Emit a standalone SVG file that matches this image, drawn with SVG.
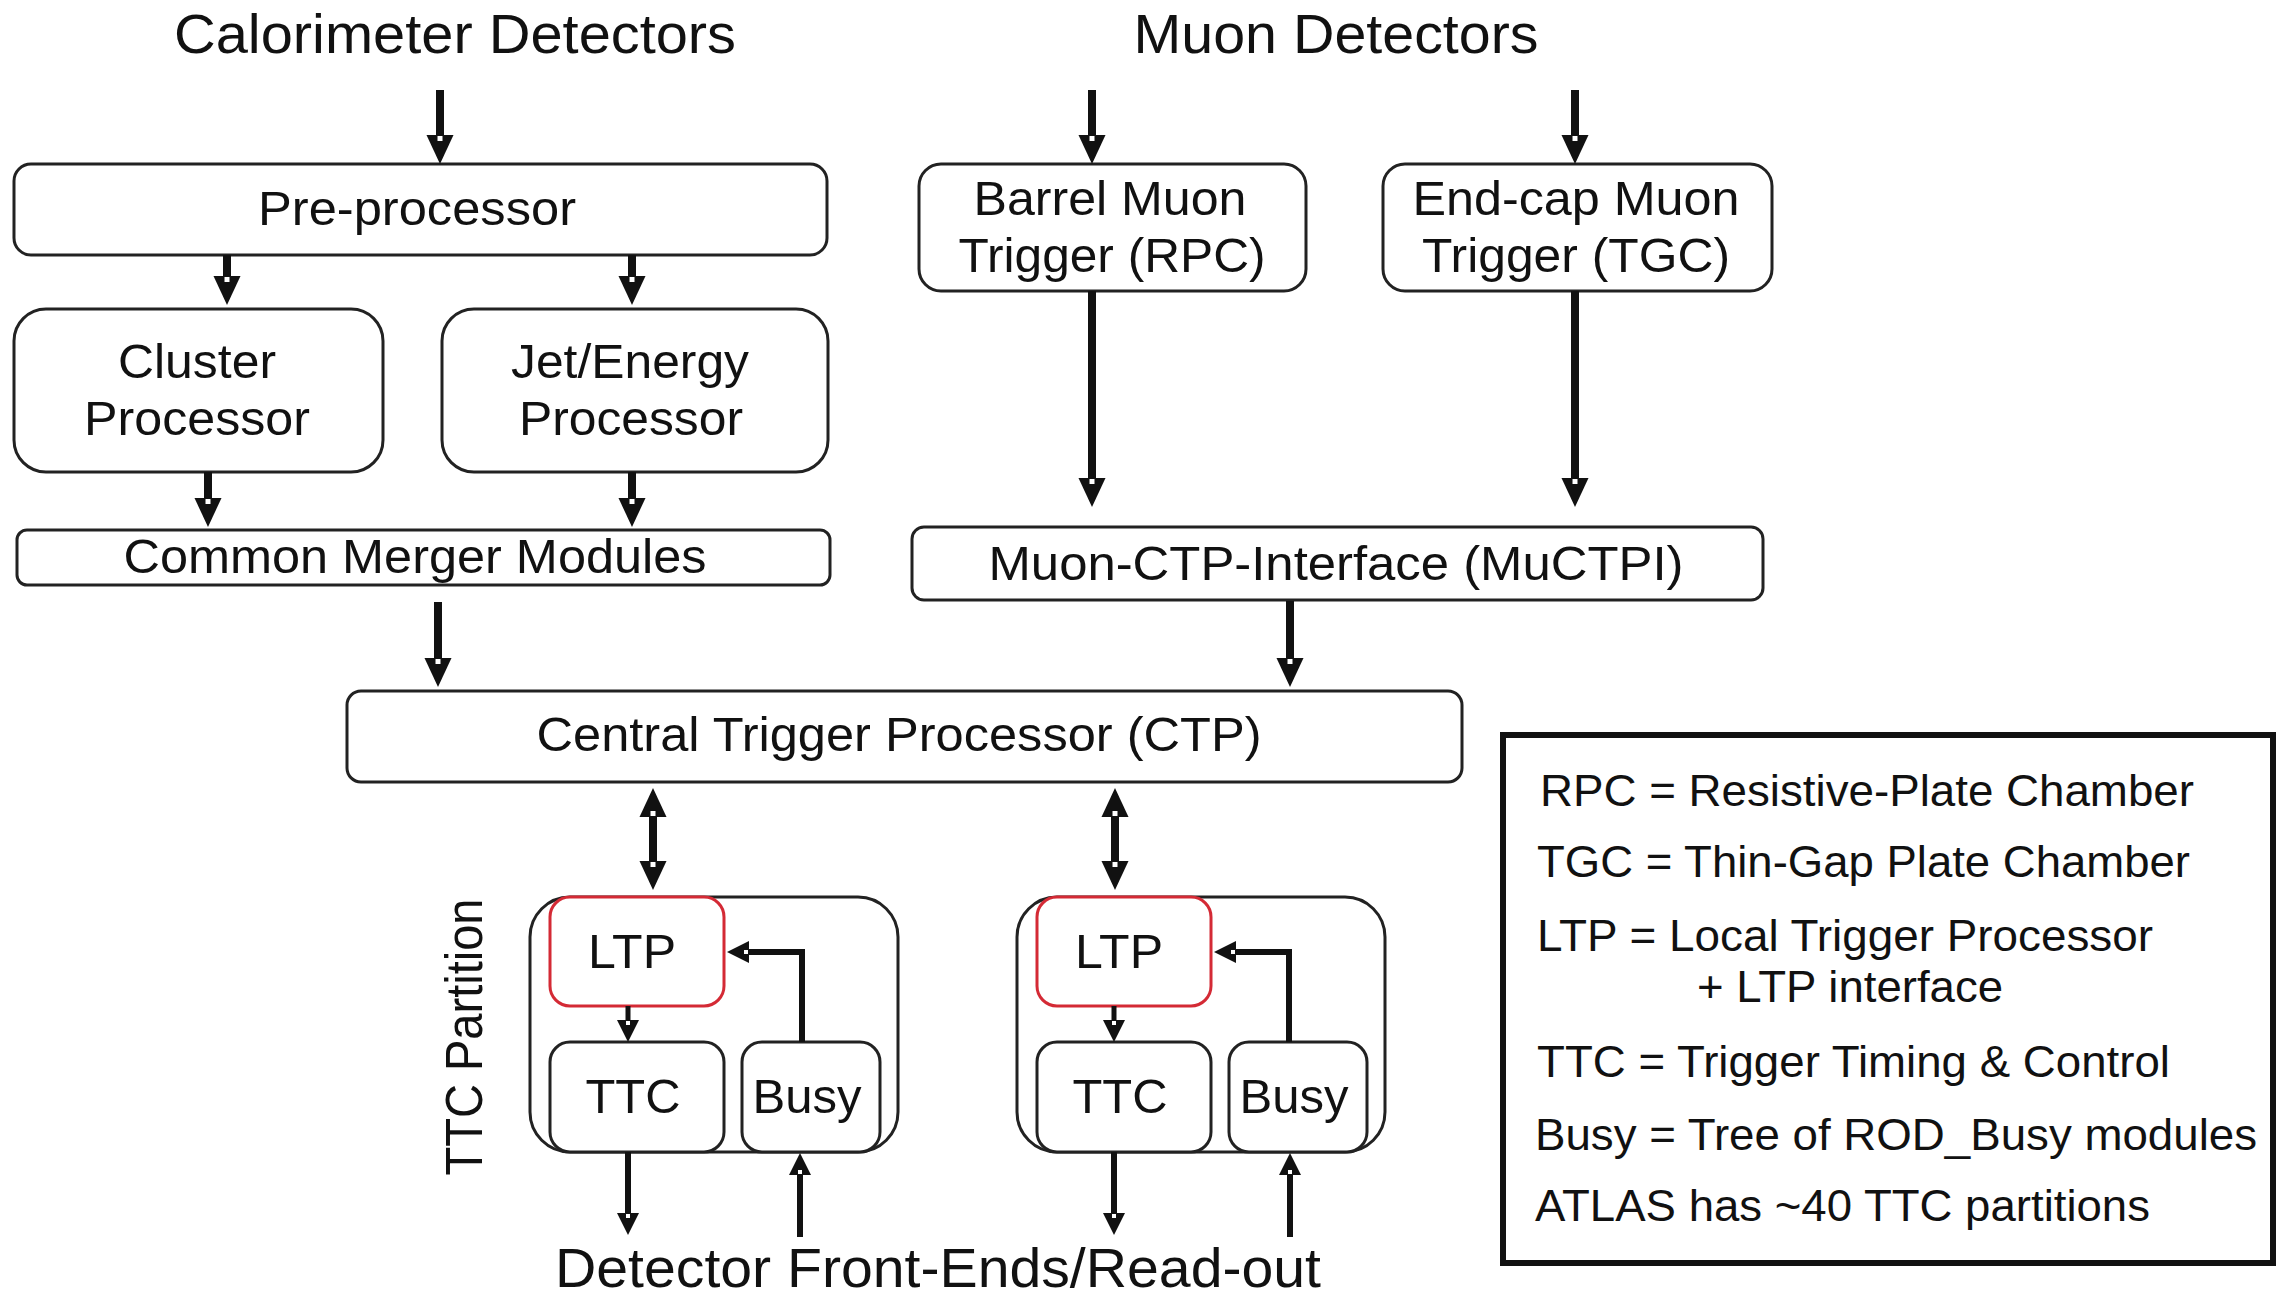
<svg xmlns="http://www.w3.org/2000/svg" width="2276" height="1297" viewBox="0 0 2276 1297">
<style>
text{font-family:"Liberation Sans",Arial,sans-serif;fill:#111;text-anchor:middle;}
.t{font-size:55px;}
.b{font-size:48px;}
.lg{font-size:44px;text-anchor:start;}
.box{fill:#fff;stroke:#222;stroke-width:3;}
.red{fill:#fff;stroke:#d42a35;stroke-width:3;}
.leg{fill:#fff;stroke:#111;stroke-width:6;}
.w{fill:none;stroke:#111;stroke-width:8;}
.n{fill:none;stroke:#111;stroke-width:6;}
.big{marker-end:url(#a1);}
.sm{marker-end:url(#a3);}
</style>
<defs>
<marker id="a1" markerUnits="userSpaceOnUse" markerWidth="30" markerHeight="28" refX="0" refY="14" orient="auto-start-reverse" overflow="visible">
<path d="M0,0.5 L29,14 L0,27.5 z" fill="#111"/>
<rect x="1" y="11.5" width="5" height="5" fill="#fff"/>
</marker>
<marker id="a3" markerUnits="userSpaceOnUse" markerWidth="22" markerHeight="22" refX="0" refY="11" orient="auto-start-reverse" overflow="visible">
<path d="M0,0 L22,11 L0,22 z" fill="#111"/>
<rect x="1" y="9" width="4" height="4" fill="#fff"/>
</marker>
</defs>
<rect width="2276" height="1297" fill="#fff"/>

<text class="t" x="455" y="53" textLength="562" lengthAdjust="spacingAndGlyphs">Calorimeter Detectors</text>
<text class="t" x="1336" y="53" textLength="405" lengthAdjust="spacingAndGlyphs">Muon Detectors</text>

<g id="pre"><rect class="box" x="14" y="164" width="813" height="91" rx="17"/>
<text class="b" x="417" y="225" textLength="318" lengthAdjust="spacingAndGlyphs">Pre-processor</text></g>
<g id="cluster"><rect class="box" x="14" y="309" width="369" height="163" rx="32"/>
<text class="b" x="197" y="378" textLength="158" lengthAdjust="spacingAndGlyphs">Cluster</text>
<text class="b" x="197" y="435" textLength="226" lengthAdjust="spacingAndGlyphs">Processor</text></g>
<g id="jet"><rect class="box" x="442" y="309" width="386" height="163" rx="32"/>
<text class="b" x="630" y="378" textLength="238" lengthAdjust="spacingAndGlyphs">Jet/Energy</text>
<text class="b" x="631" y="435" textLength="224" lengthAdjust="spacingAndGlyphs">Processor</text></g>
<g id="cmm"><rect class="box" x="17" y="530" width="813" height="55" rx="10"/>
<text class="b" x="415" y="573" textLength="583" lengthAdjust="spacingAndGlyphs">Common Merger Modules</text></g>
<g id="barrel"><rect class="box" x="919" y="164" width="387" height="127" rx="22"/>
<text class="b" x="1110" y="215" textLength="273" lengthAdjust="spacingAndGlyphs">Barrel Muon</text>
<text class="b" x="1112" y="272" textLength="307" lengthAdjust="spacingAndGlyphs">Trigger (RPC)</text></g>
<g id="endcap"><rect class="box" x="1383" y="164" width="389" height="127" rx="22"/>
<text class="b" x="1576" y="215" textLength="327" lengthAdjust="spacingAndGlyphs">End-cap Muon</text>
<text class="b" x="1576" y="272" textLength="308" lengthAdjust="spacingAndGlyphs">Trigger (TGC)</text></g>
<g id="muctpi"><rect class="box" x="912" y="527" width="851" height="73" rx="12"/>
<text class="b" x="1336" y="580" textLength="695" lengthAdjust="spacingAndGlyphs">Muon-CTP-Interface (MuCTPI)</text></g>
<g id="ctp"><rect class="box" x="347" y="691" width="1115" height="91" rx="14"/>
<text class="b" x="899" y="751" textLength="725" lengthAdjust="spacingAndGlyphs">Central Trigger Processor (CTP)</text></g>

<g id="partition1"><rect class="box" x="530" y="897" width="368" height="255" rx="40"/></g>
<g id="ltp1"><rect class="red" x="550" y="897" width="174" height="109" rx="20"/>
<text class="b" x="632" y="968" textLength="88" lengthAdjust="spacingAndGlyphs">LTP</text></g>
<g id="ttc1"><rect class="box" x="550" y="1042" width="174" height="110" rx="20"/>
<text class="b" x="633" y="1113" textLength="95" lengthAdjust="spacingAndGlyphs">TTC</text></g>
<g id="busy1"><rect class="box" x="742" y="1042" width="138" height="110" rx="20"/>
<text class="b" x="807" y="1113" textLength="109" lengthAdjust="spacingAndGlyphs">Busy</text></g>

<g id="partition2"><rect class="box" x="1017" y="897" width="368" height="255" rx="40"/></g>
<g id="ltp2"><rect class="red" x="1037" y="897" width="174" height="109" rx="20"/>
<text class="b" x="1119" y="968" textLength="88" lengthAdjust="spacingAndGlyphs">LTP</text></g>
<g id="ttc2"><rect class="box" x="1037" y="1042" width="174" height="110" rx="20"/>
<text class="b" x="1120" y="1113" textLength="95" lengthAdjust="spacingAndGlyphs">TTC</text></g>
<g id="busy2"><rect class="box" x="1229" y="1042" width="138" height="110" rx="20"/>
<text class="b" x="1294" y="1113" textLength="109" lengthAdjust="spacingAndGlyphs">Busy</text></g>

<text class="b" transform="translate(482,1037) rotate(-90)" x="0" y="0" style="font-size:52px" textLength="277" lengthAdjust="spacingAndGlyphs">TTC Partition</text>
<text class="t" x="938" y="1287" textLength="766" lengthAdjust="spacingAndGlyphs">Detector Front-Ends/Read-out</text>

<g id="connectors">
<path class="w big" d="M440,90 V135"/>
<path class="w big" d="M1092,90 V135"/>
<path class="w big" d="M1575,90 V135"/>
<path class="w big" d="M227,255 V276"/>
<path class="w big" d="M632,255 V276"/>
<path class="w big" d="M208,472 V498"/>
<path class="w big" d="M632,472 V498"/>
<path class="w big" d="M1092,291 V478"/>
<path class="w big" d="M1575,291 V478"/>
<path class="w big" d="M438,602 V658"/>
<path class="w big" d="M1290,601 V658"/>
<path class="w" marker-start="url(#a1)" marker-end="url(#a1)" d="M653,817 V861"/>
<path class="w" marker-start="url(#a1)" marker-end="url(#a1)" d="M1115,817 V861"/>
<path class="n sm" style="stroke-width:5" d="M628,1006 V1020"/>
<path class="n sm" style="stroke-width:5" d="M1114,1006 V1020"/>
<path class="n sm" d="M802,1042 V952 H749"/>
<path class="n sm" d="M1289,1042 V952 H1236"/>
<path class="n sm" d="M628,1152 V1213"/>
<path class="n sm" d="M1114,1152 V1213"/>
<path class="n sm" d="M800,1237 V1175"/>
<path class="n sm" d="M1290,1237 V1175"/>
</g>

<g id="legend"><rect class="leg" x="1503" y="735" width="770" height="528"/>
<text class="lg" x="1540" y="806" textLength="654" lengthAdjust="spacingAndGlyphs">RPC = Resistive-Plate Chamber</text>
<text class="lg" x="1537" y="877" textLength="653" lengthAdjust="spacingAndGlyphs">TGC = Thin-Gap Plate Chamber</text>
<text class="lg" x="1537" y="951" textLength="616" lengthAdjust="spacingAndGlyphs">LTP = Local Trigger Processor</text>
<text class="lg" x="1697" y="1002" textLength="306" lengthAdjust="spacingAndGlyphs">+ LTP interface</text>
<text class="lg" x="1537" y="1077" textLength="633" lengthAdjust="spacingAndGlyphs">TTC = Trigger Timing &amp; Control</text>
<text class="lg" x="1535" y="1150" textLength="722" lengthAdjust="spacingAndGlyphs">Busy = Tree of ROD_Busy modules</text>
<text class="lg" x="1535" y="1221" textLength="615" lengthAdjust="spacingAndGlyphs">ATLAS has ~40 TTC partitions</text>
</g>
</svg>
